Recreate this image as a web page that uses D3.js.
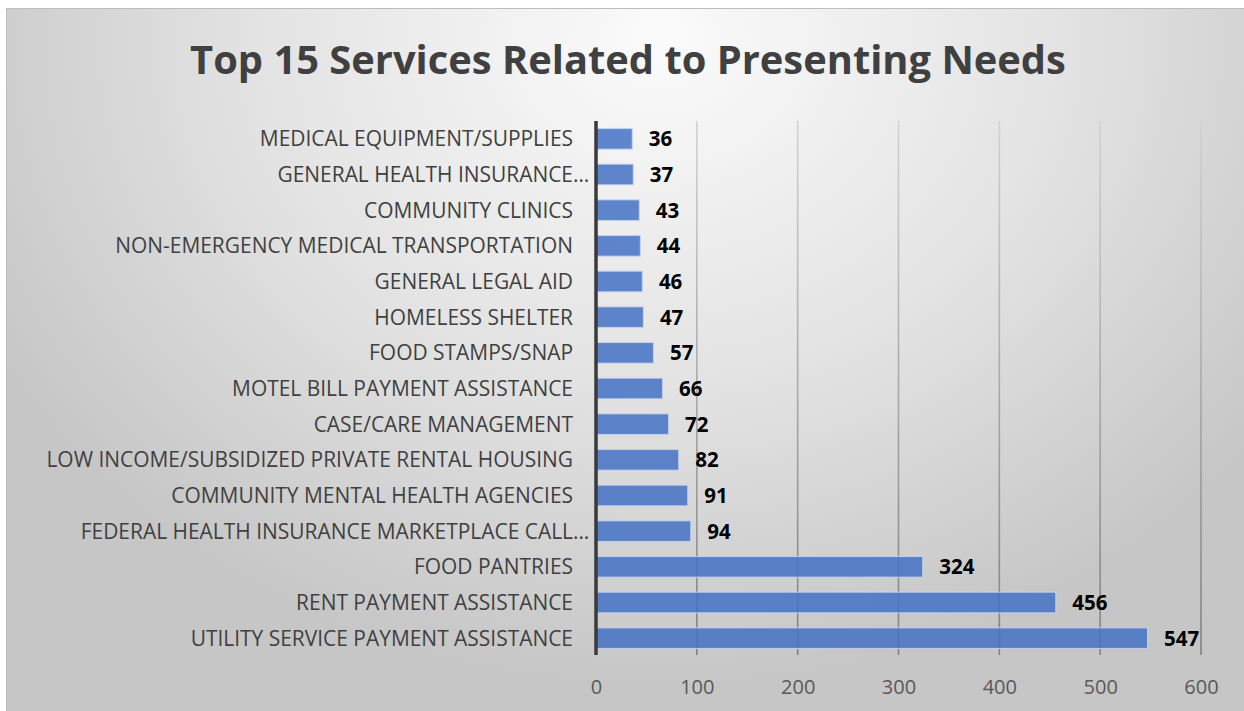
<!DOCTYPE html>
<html>
<head>
<meta charset="utf-8">
<script src="https://cdn.jsdelivr.net/npm/d3@7/dist/d3.min.js"></script>
<style>
  html, body { margin: 0; padding: 0; background: #ffffff; }
  svg { display: block; }
</style>
</head>
<body>
<svg id="chart" width="1244" height="711"></svg>
<script>
// ---- Data ----
const chartTitle = "Top 15 Services Related to Presenting Needs";
const categories = [
  "MEDICAL EQUIPMENT/SUPPLIES",
  "GENERAL HEALTH INSURANCE…",
  "COMMUNITY CLINICS",
  "NON-EMERGENCY MEDICAL TRANSPORTATION",
  "GENERAL LEGAL AID",
  "HOMELESS SHELTER",
  "FOOD STAMPS/SNAP",
  "MOTEL BILL PAYMENT ASSISTANCE",
  "CASE/CARE MANAGEMENT",
  "LOW INCOME/SUBSIDIZED PRIVATE RENTAL HOUSING",
  "COMMUNITY MENTAL HEALTH AGENCIES",
  "FEDERAL HEALTH INSURANCE MARKETPLACE CALL…",
  "FOOD PANTRIES",
  "RENT PAYMENT ASSISTANCE",
  "UTILITY SERVICE PAYMENT ASSISTANCE"
];
const values = [36, 37, 43, 44, 46, 47, 57, 66, 72, 82, 91, 94, 324, 456, 547];
const xTicks = [0, 100, 200, 300, 400, 500, 600];

// ---- Layout ----
const W = 1244, H = 711;
const frame = { x: 6, y: 8, w: 1244 - 6 + 2, h: 711 - 8 + 2 };
const plot = { left: 596, right: 1201, top: 121, bottom: 656 };
const FONT = "'Open Sans', 'DejaVu Sans', sans-serif";

const svg = d3.select("#chart");
const defs = svg.append("defs");

const bg = defs.append("radialGradient")
  .attr("id", "bgGrad")
  .attr("gradientUnits", "userSpaceOnUse")
  .attr("cx", 660).attr("cy", 40).attr("r", 760)
  .attr("gradientTransform", "translate(660,40) scale(1,0.85) translate(-660,-40)");
bg.append("stop").attr("offset", "0").attr("stop-color", "#fbfbfb");
bg.append("stop").attr("offset", "0.55").attr("stop-color", "#e2e2e2");
bg.append("stop").attr("offset", "1").attr("stop-color", "#c6c6c6");

const gridGrad = defs.append("linearGradient")
  .attr("id", "gridGrad")
  .attr("gradientUnits", "userSpaceOnUse")
  .attr("x1", 0).attr("y1", plot.top).attr("x2", 0).attr("y2", plot.bottom);
gridGrad.append("stop").attr("offset", "0").attr("stop-color", "#d2d2d2");
gridGrad.append("stop").attr("offset", "1").attr("stop-color", "#808080");

// Background frame
svg.append("rect")
  .attr("x", frame.x + 0.5).attr("y", frame.y + 0.5)
  .attr("width", frame.w).attr("height", frame.h)
  .attr("fill", "url(#bgGrad)")
  .attr("stroke", "#bdbdbd").attr("stroke-width", 1);

// Scales
const x = d3.scaleLinear().domain([0, 600]).range([plot.left, plot.right]);
const y = d3.scaleBand().domain(categories)
  .range([plot.top, plot.bottom])
  .paddingInner(0.42).paddingOuter(0.21);

// Title
const title = svg.append("text")
  .attr("x", 628).attr("y", 74)
  .attr("text-anchor", "middle")
  .attr("font-family", FONT).attr("font-weight", 700)
  .attr("font-size", 40)
  .attr("fill", "#404040")
  .text(chartTitle);
{
  const w = title.node().getComputedTextLength();
  title.attr("font-size", 40 * 876 / w);
}

// Gridlines
svg.append("g").selectAll("line")
  .data(xTicks.filter(d => d > 0))
  .join("line")
  .attr("x1", d => x(d)).attr("x2", d => x(d))
  .attr("y1", plot.top).attr("y2", plot.bottom - 1)
  .attr("stroke", "url(#gridGrad)")
  .attr("stroke-width", 1.6);

// Bars
svg.append("g").selectAll("rect")
  .data(values)
  .join("rect")
  .attr("x", x(0))
  .attr("y", (d, i) => y(categories[i]))
  .attr("width", d => x(d) - x(0))
  .attr("height", y.bandwidth())
  .attr("fill", "#4472c4")
  .attr("fill-opacity", 0.85)
  .attr("stroke", "#c9d6ee")
  .attr("stroke-opacity", 0.8)
  .attr("stroke-width", 1.2);

// Value labels
svg.append("g").selectAll("text")
  .data(values)
  .join("text")
  .attr("x", d => x(d) + 16.5)
  .attr("y", (d, i) => y(categories[i]) + y.bandwidth() / 2)
  .attr("dy", "0.36em")
  .attr("font-family", FONT).attr("font-weight", 700)
  .attr("font-size", 20.5)
  .attr("fill", "#000000")
  .text(d => d);

// Category labels
const labelX = plot.left - 23;
const catG = svg.append("g")
  .attr("font-family", FONT)
  .attr("fill", "#404040");
const base = categories.map(c => c.replace(/…$/, ""));
const catText = catG.selectAll("text.cat")
  .data(categories)
  .join("text")
  .attr("class", "cat")
  .attr("x", labelX)
  .attr("y", d => y(d) + y.bandwidth() / 2)
  .attr("dy", "0.36em")
  .attr("text-anchor", "end")
  .attr("font-size", 20)
  .text((d, i) => base[i]);
// fit the longest label width
{
  const longest = "LOW INCOME/SUBSIDIZED PRIVATE RENTAL HOUSING";
  const node = catText.filter(d => d === longest).node();
  const w = node.getComputedTextLength();
  const fs = 20 * 527 / w;
  catText.attr("font-size", fs);
  catG.selectAll("text.ell")
    .data(categories.filter(c => /…$/.test(c)))
    .join("text")
    .attr("class", "ell")
    .attr("x", labelX)
    .attr("y", d => y(d) + y.bandwidth() / 2)
    .attr("dy", "0.36em")
    .attr("font-size", fs)
    .text("…");
}

// Vertical axis line
svg.append("line")
  .attr("x1", x(0)).attr("x2", x(0))
  .attr("y1", plot.top).attr("y2", plot.bottom - 1)
  .attr("stroke", "#3a3a3a").attr("stroke-width", 3.5);

// X axis tick labels
const xAxis = d3.axisBottom(x).tickValues(xTicks).tickSize(0).tickPadding(0);
const gx = svg.append("g")
  .attr("transform", `translate(0,${687})`)
  .call(xAxis);
gx.select(".domain").remove();
gx.selectAll("text")
  .attr("dy", "0.36em")
  .attr("font-family", FONT)
  .attr("font-size", 20)
  .attr("fill", "#595959");
</script>
</body>
</html>
